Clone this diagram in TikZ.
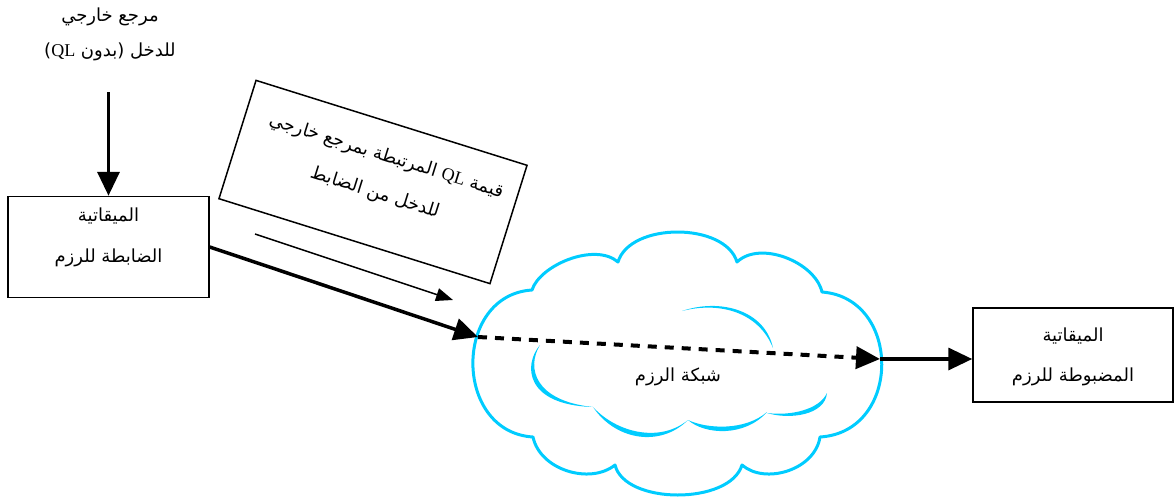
\documentclass[tikz,border=0pt]{standalone}
\usepackage{fontspec}
\setmainfont{Liberation Serif}
\newfontfamily\arabicfont[Script=Arabic]{DejaVu Sans}
\TeXXeTstate=1
\usetikzlibrary{arrows.meta}
\definecolor{cloudblue}{RGB}{0,204,255}
\tikzset{
  boxnode/.style={draw, line width=1.5pt, inner sep=0pt},
  artext/.style={font=\arabicfont\fontsize{18}{38}\selectfont, align=center, inner sep=0pt},
  heavy/.style={line width=3.5pt, -{Triangle[length=24pt,width=22pt]}},
  light/.style={line width=1.5pt, -{Triangle[length=17pt,width=13pt]}},
  dashedlink/.style={line width=4pt, dash pattern=on 9pt off 8pt, -{Triangle[length=24pt,width=22pt]}},
  cloudline/.style={draw=cloudblue, line width=3pt, line join=round},
  crescent/.style={fill=cloudblue},
}
\begin{document}
\begin{tikzpicture}[x=1pt,y=-1pt]
\useasboundingbox (0,0) rectangle (1176,499);

% external reference text and the clock box below it
\node[artext, font=\arabicfont\fontsize{18}{35}\selectfont] (ref) at (110,34.5) {\beginR مرجع خارجي\endR\\\beginR للدخل (بدون \beginL{\rmfamily QL}\endL)\endR};
\node[boxnode, minimum width=201pt, minimum height=101pt] (lbox) at (108.5,247) {};
\node[artext, font=\arabicfont\fontsize{18}{41}\selectfont] (ltext) at (108.5,237) {\beginR الميقاتية\endR\\\beginR الضابطة للرزم\endR};
\coordinate (vstart) at (108.5,92);
\draw[heavy] (vstart) -- (lbox.north);

% tilted note
\node[boxnode, minimum width=284pt, minimum height=124pt, rotate=-17.4] (qlbox) at (373,182) {};
\node[artext, rotate=-17.4] (qltext) at (380.5,175) {\beginR قيمة \beginL{\rmfamily QL}\endL{} المرتبطة بمرجع خارجي\endR\\\beginR للدخل من الضابط\endR};
\coordinate (tstart) at (255,234);
\coordinate (tend) at (453,300);
\draw[light] (tstart) -- (tend);

% packet network cloud
\path[cloudline] (532,290)
  .. controls (540,265) and (595,242) .. (618,262)
  .. controls (630,222) and (725,222) .. (737,262)
  .. controls (760,240) and (815,262) .. (822,292)
  .. controls (902,298) and (902,432) .. (820,437)
  .. controls (815,470) and (765,485) .. (742,465)
  .. controls (730,505) and (625,505) .. (615,465)
  .. controls (590,485) and (540,470) .. (533,437)
  .. controls (453,432) and (453,295) .. cycle;
\fill[crescent] (682,311) .. controls (720,298) and (765,310) .. (773,348)
  .. controls (759,313) and (721,301) .. (682,311) -- cycle;
\fill[crescent] (540,345) .. controls (523,365) and (525,405) .. (593,407)
  .. controls (535,401) and (526,368) .. (540,345) -- cycle;
\fill[crescent] (593,407) .. controls (615,440) and (660,448) .. (688,420)
  .. controls (660,443) and (617,433) .. (593,407) -- cycle;
\fill[crescent] (688,420) .. controls (705,435) and (745,437) .. (767,412)
  .. controls (745,431) and (707,429) .. (688,420) -- cycle;
\fill[crescent] (767,413) .. controls (790,420) and (825,415) .. (827,393)
  .. controls (819,410) and (790,416) .. (767,413) -- cycle;
\node[artext] (net) at (678,377) {\beginR شبكة الرزم\endR};
\coordinate (cin) at (478,337);
\coordinate (cout) at (880,359);

% controlled clock
\node[boxnode, minimum width=200pt, minimum height=94pt] (rbox) at (1073,355) {};
\node[artext, font=\arabicfont\fontsize{18}{40}\selectfont] (rtext) at (1073,357) {\beginR الميقاتية\endR\\\beginR المضبوطة للرزم\endR};

% connectors
\draw[heavy] (lbox.east) -- (cin);
\draw[dashedlink] (cin) -- (cout);
\draw[heavy] (cout) -- (cout -| rbox.west);
\end{tikzpicture}
\end{document}
